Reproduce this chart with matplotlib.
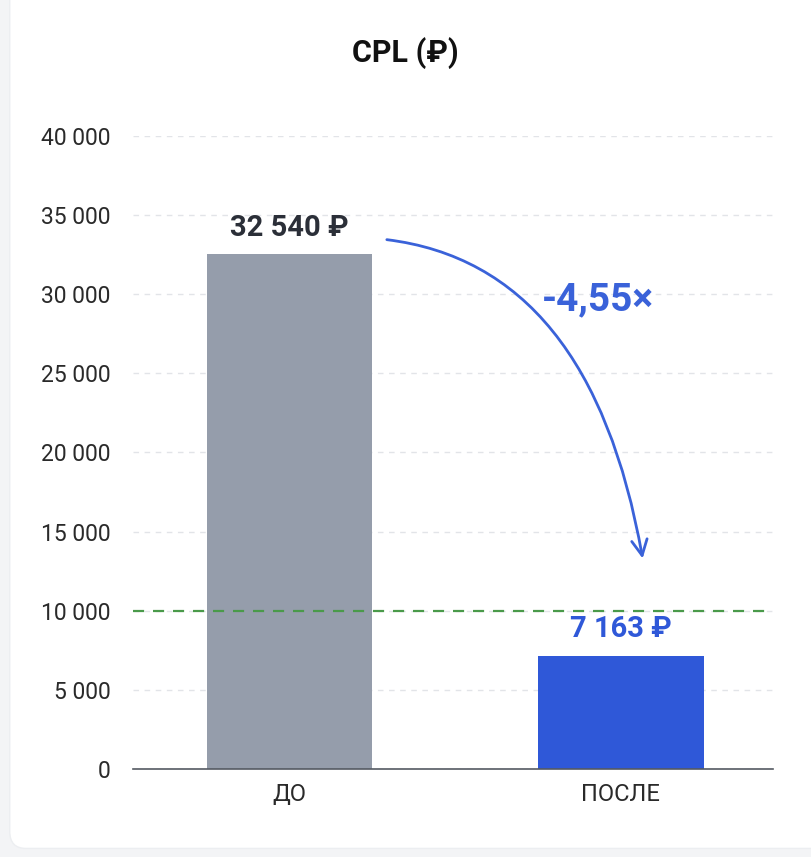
import matplotlib
matplotlib.use("Agg")
import matplotlib.pyplot as plt
from matplotlib.patches import FancyBboxPatch
from matplotlib.ticker import FuncFormatter

categories = ["ДО", "ПОСЛЕ"]
values = [32540, 7163]
value_labels = ["32 540 ₽", "7 163 ₽"]
target = 10000
ratio_label = "-4,55×"
title = "CPL (₽)"
yticks = [0, 5000, 10000, 15000, 20000, 25000, 30000, 35000, 40000]

plt.rcParams['font.family'] = ['Roboto', 'DejaVu Sans']

GRAY = "#959dab"
BLUE = "#2f58d8"
DARK = "#2b2f38"
GREEN = "#4a9a4a"

fig = plt.figure(figsize=(8.11, 8.57), dpi=100)
fig.patch.set_facecolor("#f3f4f6")
card = FancyBboxPatch((0.012, 0.01), 1.2, 1.2, boxstyle="round,pad=0,rounding_size=0.02",
                      transform=fig.transFigure, facecolor="white", edgecolor="#eceef1",
                      linewidth=1, zorder=-10)
fig.patches.append(card)

ax = fig.add_axes([0.164, 0.1027, 0.789, 0.7386])
ax.set_zorder(2)
ax.set_facecolor("none")

x = list(range(len(categories)))
bars = ax.bar(x, values, width=0.5, color=[GRAY, BLUE], zorder=3)

ax.set_xlim(-0.472, 1.459)
ax.set_ylim(0, 40000)
ax.set_yticks(yticks)
ax.yaxis.set_major_formatter(FuncFormatter(lambda v, p: f"{int(v):,}".replace(",", " ")))
ax.set_xticks(x)
ax.set_xticklabels(categories)
ax.tick_params(axis='both', length=0, colors="#2a2a2a")
ax.tick_params(axis='y', pad=16, labelsize=16.5)
ax.tick_params(axis='x', pad=10, labelsize=17)

ax.grid(axis='y', color="#e2e4e8", linestyle=(0, (4, 4)), linewidth=1, zorder=0)
for s in ["top", "right", "left"]:
    ax.spines[s].set_visible(False)
ax.spines["bottom"].set_color("#555a62")
ax.spines["bottom"].set_linewidth(1.2)
ax.spines["bottom"].set_zorder(4)

ax.axhline(target, color=GREEN, linestyle=(0, (5, 4)), linewidth=1.6, zorder=4)

label_colors = [DARK, BLUE]
for xi, v, lab, c in zip(x, values, value_labels, label_colors):
    ax.annotate(lab, (xi, v), xytext=(0, 9), textcoords="offset points",
                ha="center", va="bottom", fontsize=21, fontweight="bold", color=c)

ax.annotate("", xy=(1.066, 13300), xytext=(0.294, 33450),
            arrowprops=dict(arrowstyle="->", connectionstyle="angle3,angleA=-7,angleB=100",
                            color="#3a62d9", lw=2, mutation_scale=28,
                            shrinkA=0, shrinkB=0), zorder=5)
ax.text(0.93, 29650, ratio_label, ha="center", va="center", fontsize=28,
        fontweight="bold", color="#3a62d9", zorder=6)

fig.text(0.5, 0.938, title, ha="center", va="center", fontsize=22,
         fontweight="bold", color="#111111")

fig.savefig("out.png", dpi=100, facecolor=fig.get_facecolor())
